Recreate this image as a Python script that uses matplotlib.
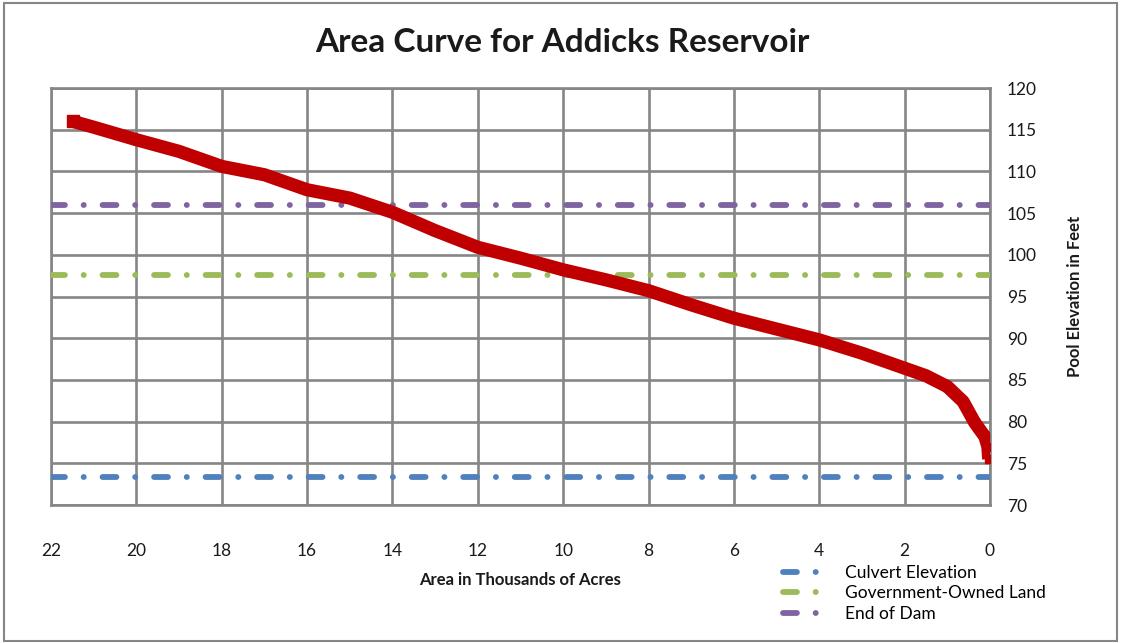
import matplotlib
matplotlib.use('Agg')
import matplotlib.pyplot as plt
from matplotlib.patches import Rectangle
from matplotlib.ticker import MultipleLocator

# Area (thousands of acres) vs pool elevation (ft)
area = [21.49, 21.0, 20.0, 19.0, 18.0, 17.0, 16.0, 15.0, 14.0, 13.0, 12.0,
        11.0, 10.0, 9.0, 8.0, 7.0, 6.0, 5.0, 4.0, 3.0, 2.0, 1.5, 1.0,
        0.63, 0.36, 0.12, 0.05, 0.03]
elevation = [116.0, 115.3, 113.8, 112.4, 110.6, 109.6, 107.8, 106.8, 105.1,
             102.9, 100.9, 99.6, 98.2, 97.0, 95.7, 94.0, 92.4, 91.1, 89.8,
             88.2, 86.4, 85.5, 84.2, 82.4, 79.9, 78.2, 77.0, 75.5]

# Reference elevations (ft)
ref_names = ['Culvert Elevation', 'Government-Owned Land', 'End of Dam']
ref_levels = [73.3, 97.6, 106.0]
ref_colors = ['#4F81BD', '#9BBB59', '#8064A2']

GRID = '#868686'
TEXT = '#1A1A1A'

plt.rcParams.update({
    'font.family': ['Lato', 'DejaVu Sans'],
    'lines.scale_dashes': False,
})

fig = plt.figure(figsize=(11.21, 6.43), dpi=100)
ax = fig.add_axes([51 / 1121, 1 - 505 / 643, 939 / 1121, 417 / 643])

# outer chart border
fig.patches.append(Rectangle((4 / 1121, 2 / 643), 1113 / 1121, 638 / 643,
                             transform=fig.transFigure, fill=False,
                             ec=GRID, lw=1.5))

for name, lvl, col in zip(ref_names, ref_levels, ref_colors):
    ax.plot([22, 0], [lvl, lvl], color=col, lw=4.2, label=name,
            dashes=(10.0, 13.5, 0.1, 13.5), dash_capstyle='round', zorder=3)

# thick red area curve, square marker at the first (top) point
ax.plot(area, elevation, color='#C00000', lw=9.5, marker='s', ms=9,
        markevery=[0], mec='#C00000', solid_capstyle='butt',
        solid_joinstyle='round', zorder=4)
ax.plot(area, elevation, color='#C00000', lw=0, marker='s', ms=5.5,
        mec='#C00000', zorder=4)

ax.set_xlim(22, 0)
ax.set_ylim(70, 120)
ax.xaxis.set_major_locator(MultipleLocator(2))
ax.yaxis.set_major_locator(MultipleLocator(5))
ax.grid(True, color=GRID, lw=1.9)
ax.set_axisbelow(True)
for sp in ax.spines.values():
    sp.set_color(GRID)
    sp.set_linewidth(1.9)

ax.yaxis.tick_right()
ax.tick_params(axis='both', length=0, labelsize=12.5, colors=TEXT)
ax.tick_params(axis='x', pad=27)
ax.tick_params(axis='y', pad=12)
for lab in ax.get_yticklabels():
    lab.set_horizontalalignment('left')

ax.set_xlabel('Area in Thousands of Acres', fontsize=12, fontweight='bold',
              color=TEXT)
ax.xaxis.set_label_coords(0.5, -0.16)
ax.yaxis.set_label_position('right')
ax.set_ylabel('Pool Elevation in Feet', fontsize=12, fontweight='bold',
              color=TEXT, rotation=90)
ax.yaxis.set_label_coords(1.082, 0.5)

fig.text(562 / 1121, 1 - 42 / 643, 'Area Curve for Addicks Reservoir',
         ha='center', va='center', fontsize=24, fontweight='bold',
         color=TEXT, family=['Liberation Sans Narrow', 'Lato', 'DejaVu Sans'])

fig.legend(handles=ax.lines[:3], loc='upper left',
           bbox_to_anchor=(776 / 1121, 1 - 558 / 643),
           frameon=False, fontsize=12.5, handlelength=2.4, handletextpad=1.2,
           labelspacing=0.25, borderaxespad=0)

fig.savefig('out.png', dpi=100)
